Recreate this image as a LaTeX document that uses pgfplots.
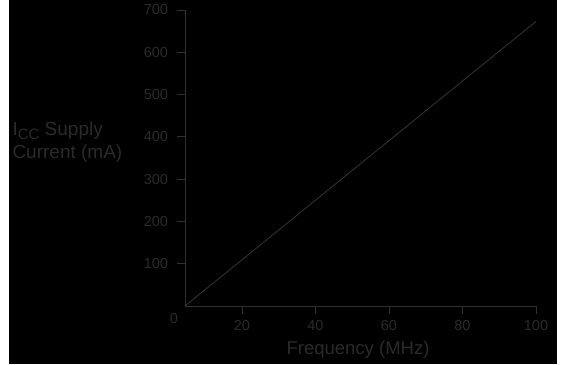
\documentclass[border=0pt]{standalone}
\usepackage{fontspec}
\setmainfont{Liberation Sans}
\usepackage{pgfplots}
\pgfplotsset{compat=1.18}
\definecolor{fg}{RGB}{42,42,42}
\definecolor{ln}{RGB}{48,48,48}
\begin{document}
\begin{tikzpicture}[x=1bp,y=1bp]
\path[use as bounding box] (-185,-58) rectangle (377,306);
\fill[black] (-176,-58) rectangle (372,306);
\begin{axis}[
  at={(0,0)}, anchor=south west,
  scale only axis, width=351bp, height=296bp,
  axis lines*=left,
  axis line style={ln, line width=0.9bp},
  xmin=4.5, xmax=100, ymin=0, ymax=700,
  xtick={20,40,60,80,100}, ytick={100,200,300,400,500,600,700},
  tick align=outside, major tick length=7.5bp,
  tick style={ln, line width=0.9bp},
  /pgf/number format/assume math mode=true,
  ticklabel style={text=fg, font=\fontsize{14.5bp}{16bp}\selectfont},
  xticklabel style={yshift=-3.5bp},
  yticklabel style={xshift=-6bp},
  xlabel={Frequency (MHz)},
  xlabel style={text=fg, font=\fontsize{18.5bp}{20bp}\selectfont, at={(axis description cs:0.493,0)}, anchor=center, yshift=-44bp},
  ylabel={I\raisebox{-3.5bp}{\fontsize{15bp}{15bp}\selectfont CC} Supply\\Current (mA)},
  ylabel style={text=fg, font=\fontsize{19bp}{22.5bp}\selectfont, rotate=-90, align=left, anchor=west, at={(axis description cs:0,0)}, xshift=-176bp, yshift=164bp},
  clip=false,
]
\addplot[ln, line width=0.9bp] coordinates {(4.5,0) (100,673)};
\node[text=fg, font=\fontsize{14.5bp}{16bp}\selectfont, xshift=-11bp, yshift=-13bp] at (rel axis cs:0,0) {0};
\end{axis}
\end{tikzpicture}
\end{document}
